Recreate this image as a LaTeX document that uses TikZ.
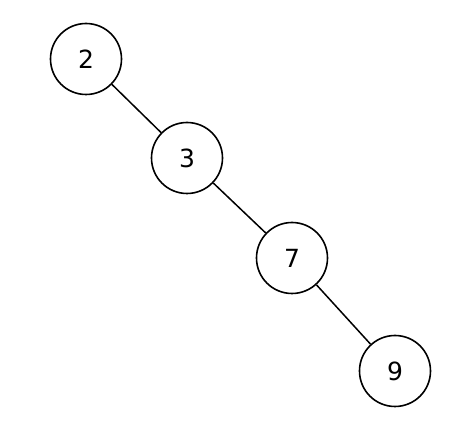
\documentclass[tikz,border=0pt]{standalone}
\usepackage{fontspec}
\setmainfont{DejaVu Sans}
\begin{document}
\begin{tikzpicture}[x=1pt,y=-1pt,
  treenode/.style={draw,circle,line width=1.6pt,minimum size=71pt,inner sep=0pt,font=\fontsize{25}{30}\selectfont},
  edge/.style={line width=1.5pt}]
\useasboundingbox (0,0) rectangle (451,427);
\node[treenode] (n2) at (86,59) {2};
\node[treenode] (n3) at (187,158) {3};
\node[treenode] (n7) at (292,258) {7};
\node[treenode] (n9) at (395,371) {9};
\draw[edge] (n2) -- (n3);
\draw[edge] (n3) -- (n7);
\draw[edge] (n7) -- (n9);
\end{tikzpicture}
\end{document}
